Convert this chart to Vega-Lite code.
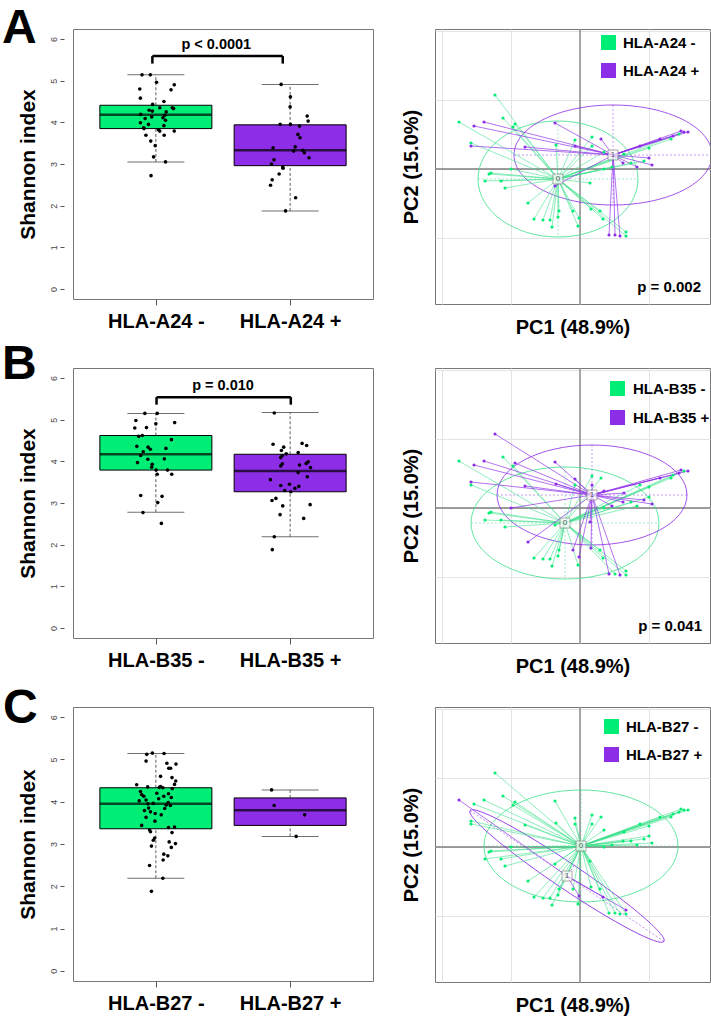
{
"$schema":"https://vega.github.io/schema/vega-lite/v6.json",
"padding":{"left":1,"top":4,"right":1,"bottom":0},
"config":{"font":"Liberation Sans","view":{"stroke":"#777","strokeWidth":1}},
"datasets":{
"pcoa":[
{"x":-85,"y":74,"a":0,"b":1,"c":0},{"x":-121,"y":47,"a":0,"b":0,"c":1},{"x":-106,"y":43,"a":1,"b":1,"c":0},{"x":-96,"y":47,"a":1,"b":1,"c":0},
{"x":-77,"y":51,"a":0,"b":0,"c":0},{"x":-65,"y":45,"a":0,"b":1,"c":0},{"x":-67,"y":42,"a":0,"b":0,"c":0},{"x":-25,"y":46,"a":1,"b":1,"c":0},
{"x":-109,"y":26,"a":0,"b":1,"c":0},{"x":-109,"y":23,"a":1,"b":0,"c":0},{"x":-55,"y":22,"a":1,"b":1,"c":0},{"x":-24,"y":24,"a":0,"b":1,"c":0},
{"x":-5,"y":29,"a":0,"b":1,"c":0},{"x":-5,"y":23,"a":1,"b":0,"c":0},{"x":12,"y":32,"a":0,"b":0,"c":0},{"x":21,"y":30,"a":1,"b":0,"c":0},
{"x":-69,"y":0,"a":0,"b":1,"c":0},{"x":-91,"y":-5,"a":0,"b":0,"c":0},{"x":-89,"y":-4,"a":0,"b":0,"c":0},{"x":-95,"y":-12,"a":0,"b":0,"c":0},
{"x":-79,"y":-12,"a":0,"b":0,"c":0},{"x":-75,"y":-19,"a":0,"b":0,"c":0},{"x":-52,"y":-34,"a":0,"b":1,"c":0},{"x":-46,"y":-50,"a":0,"b":0,"c":0},
{"x":-37,"y":-51,"a":0,"b":0,"c":0},{"x":-30,"y":-51,"a":0,"b":0,"c":0},{"x":-28,"y":-58,"a":0,"b":0,"c":0},{"x":-22,"y":-48,"a":0,"b":0,"c":0},
{"x":-21,"y":-42,"a":0,"b":0,"c":0},{"x":-2,"y":-57,"a":0,"b":0,"c":0},{"x":-1,"y":-49,"a":0,"b":1,"c":1},{"x":23,"y":-50,"a":0,"b":0,"c":1},
{"x":20,"y":-42,"a":0,"b":0,"c":0},{"x":11,"y":-40,"a":0,"b":1,"c":0},{"x":29,"y":-66,"a":1,"b":1,"c":0},{"x":35,"y":-66,"a":1,"b":0,"c":0},
{"x":40,"y":-67,"a":1,"b":1,"c":0},{"x":46,"y":-63,"a":0,"b":0,"c":1},{"x":46,"y":-67,"a":0,"b":0,"c":0},{"x":101,"y":38,"a":1,"b":1,"c":0},
{"x":104,"y":37,"a":1,"b":0,"c":0},{"x":108,"y":37,"a":1,"b":1,"c":0},{"x":99,"y":35,"a":0,"b":1,"c":0},{"x":93,"y":33,"a":1,"b":0,"c":0},
{"x":80,"y":30,"a":1,"b":1,"c":0},{"x":60,"y":23,"a":1,"b":0,"c":0},{"x":69,"y":21,"a":0,"b":0,"c":0},{"x":12,"y":23,"a":0,"b":1,"c":0},
{"x":24,"y":17,"a":0,"b":1,"c":0},{"x":69,"y":11,"a":1,"b":0,"c":0},{"x":64,"y":8,"a":0,"b":1,"c":0},{"x":72,"y":4,"a":1,"b":1,"c":0},
{"x":57,"y":2,"a":1,"b":0,"c":0},{"x":51,"y":6,"a":0,"b":0,"c":0},{"x":43,"y":6,"a":1,"b":1,"c":0},{"x":10,"y":-14,"a":0,"b":1,"c":0},
{"x":-25,"y":-17,"a":1,"b":0,"c":0},{"x":-7,"y":-42,"a":0,"b":1,"c":0},{"x":32,"y":2,"a":0,"b":1,"c":0},{"x":44,"y":15,"a":0,"b":1,"c":0},
{"x":24,"y":0,"a":0,"b":0,"c":0},{"x":91,"y":30,"a":0,"b":0,"c":0}
],
"centA":[{"g":0,"cx":-22,"cy":-10},{"g":1,"cx":33,"cy":14}],
"centB":[{"g":0,"cx":-15,"cy":-15},{"g":1,"cx":12,"cy":13}],
"centC":[{"g":0,"cx":1,"cy":1},{"g":1,"cx":-13,"cy":-29}],
"box":[
{"p":"A","g":1,"lo":3.05,"q1":3.85,"med":4.18,"q3":4.41,"hi":5.14},
{"p":"A","g":2,"lo":1.875,"q1":2.96,"med":3.33,"q3":3.94,"hi":4.91},
{"p":"B","g":1,"lo":2.78,"q1":3.79,"med":4.17,"q3":4.62,"hi":5.15},
{"p":"B","g":2,"lo":2.19,"q1":3.27,"med":3.77,"q3":4.17,"hi":5.17},
{"p":"C","g":1,"lo":2.19,"q1":3.36,"med":3.95,"q3":4.33,"hi":5.14},
{"p":"C","g":2,"lo":3.18,"q1":3.44,"med":3.80,"q3":4.09,"hi":4.28}
],
"brk":[
{"p":"A","x":0.974,"x2":1.945,"y":5.59,"y2":5.59},{"p":"A","x":0.974,"x2":0.974,"y":5.41,"y2":5.59},{"p":"A","x":1.945,"x2":1.945,"y":5.41,"y2":5.59},
{"p":"B","x":1.005,"x2":2.005,"y":5.54,"y2":5.54},{"p":"B","x":1.005,"x2":1.005,"y":5.36,"y2":5.54},{"p":"B","x":2.005,"x2":2.005,"y":5.36,"y2":5.54}
],
"jit":[
{"p":"A","x":0.897,"y":5.14},{"p":"A","x":0.959,"y":5.14},{"p":"A","x":0.88,"y":4.8},{"p":"A","x":0.885,"y":4.58},{"p":"A","x":1.005,"y":4.96},{"p":"A","x":1.137,"y":4.9},
{"p":"A","x":1.113,"y":4.78},{"p":"A","x":1.06,"y":4.5},{"p":"A","x":0.976,"y":4.43},{"p":"A","x":1.029,"y":4.35},{"p":"A","x":0.95,"y":4.29},{"p":"A","x":0.974,"y":4.27},
{"p":"A","x":0.887,"y":4.19},{"p":"A","x":1.077,"y":4.25},{"p":"A","x":1.122,"y":4.35},{"p":"A","x":1.132,"y":4.33},{"p":"A","x":0.969,"y":4.13},{"p":"A","x":1.067,"y":4.17},
{"p":"A","x":1.072,"y":4.05},{"p":"A","x":0.885,"y":3.99},{"p":"A","x":0.945,"y":3.95},{"p":"A","x":0.909,"y":3.87},{"p":"A","x":1.019,"y":3.82},{"p":"A","x":1.029,"y":3.79},
{"p":"A","x":1.137,"y":3.79},{"p":"A","x":1.06,"y":3.92},{"p":"A","x":0.926,"y":3.69},{"p":"A","x":1.062,"y":3.69},{"p":"A","x":0.962,"y":3.55},{"p":"A","x":0.995,"y":3.44},
{"p":"A","x":0.983,"y":3.17},{"p":"A","x":1.072,"y":3.05},{"p":"A","x":0.964,"y":2.72},{"p":"A","x":1.053,"y":4.11},{"p":"A","x":0.92,"y":4.09},{"p":"A","x":0.912,"y":3.85},
{"p":"A","x":1.933,"y":4.91},{"p":"A","x":2.002,"y":4.61},{"p":"A","x":2.0,"y":4.37},{"p":"A","x":2.127,"y":4.15},{"p":"A","x":2.134,"y":4.03},{"p":"A","x":1.926,"y":3.95},
{"p":"A","x":2.002,"y":3.95},{"p":"A","x":2.07,"y":3.91},{"p":"A","x":2.058,"y":3.71},{"p":"A","x":2.074,"y":3.63},{"p":"A","x":1.873,"y":3.39},{"p":"A","x":2.038,"y":3.41},
{"p":"A","x":2.026,"y":3.31},{"p":"A","x":2.094,"y":3.33},{"p":"A","x":2.106,"y":3.27},{"p":"A","x":2.141,"y":3.15},{"p":"A","x":1.88,"y":3.1},{"p":"A","x":1.861,"y":3.0},
{"p":"A","x":1.945,"y":2.93},{"p":"A","x":1.947,"y":2.9},{"p":"A","x":1.918,"y":2.76},{"p":"A","x":1.866,"y":2.62},{"p":"A","x":1.854,"y":2.49},{"p":"A","x":2.041,"y":2.19},
{"p":"A","x":1.966,"y":1.875},
{"p":"B","x":0.918,"y":5.15},{"p":"B","x":1.01,"y":5.15},{"p":"B","x":0.851,"y":4.98},{"p":"B","x":1.0,"y":4.9},{"p":"B","x":1.14,"y":4.93},{"p":"B","x":0.93,"y":4.81},
{"p":"B","x":0.843,"y":4.8},{"p":"B","x":0.872,"y":4.6},{"p":"B","x":0.899,"y":4.62},{"p":"B","x":1.116,"y":4.52},{"p":"B","x":0.858,"y":4.36},{"p":"B","x":0.942,"y":4.34},
{"p":"B","x":0.959,"y":4.29},{"p":"B","x":1.075,"y":4.31},{"p":"B","x":0.906,"y":4.23},{"p":"B","x":0.887,"y":4.14},{"p":"B","x":0.94,"y":4.05},{"p":"B","x":1.063,"y":4.06},
{"p":"B","x":0.863,"y":3.97},{"p":"B","x":0.973,"y":3.93},{"p":"B","x":0.969,"y":3.86},{"p":"B","x":1.002,"y":3.79},{"p":"B","x":1.087,"y":3.79},{"p":"B","x":1.01,"y":3.69},
{"p":"B","x":1.118,"y":3.69},{"p":"B","x":0.887,"y":3.18},{"p":"B","x":1.046,"y":3.16},{"p":"B","x":1.014,"y":3.01},{"p":"B","x":0.904,"y":2.77},{"p":"B","x":1.041,"y":2.51},
{"p":"B","x":1.882,"y":5.16},{"p":"B","x":1.873,"y":4.41},{"p":"B","x":1.952,"y":4.34},{"p":"B","x":2.089,"y":4.43},{"p":"B","x":2.123,"y":4.38},{"p":"B","x":1.935,"y":4.26},
{"p":"B","x":1.971,"y":4.18},{"p":"B","x":1.942,"y":4.14},{"p":"B","x":2.06,"y":4.21},{"p":"B","x":1.93,"y":4.09},{"p":"B","x":1.942,"y":3.94},{"p":"B","x":1.93,"y":3.89},
{"p":"B","x":2.135,"y":3.99},{"p":"B","x":2.12,"y":3.95},{"p":"B","x":2.07,"y":3.91},{"p":"B","x":2.152,"y":3.85},{"p":"B","x":2.06,"y":3.73},{"p":"B","x":1.853,"y":3.56},
{"p":"B","x":2.128,"y":3.63},{"p":"B","x":1.93,"y":3.42},{"p":"B","x":1.995,"y":3.45},{"p":"B","x":2.065,"y":3.4},{"p":"B","x":2.036,"y":3.35},{"p":"B","x":1.96,"y":3.3},
{"p":"B","x":2.005,"y":3.27},{"p":"B","x":1.894,"y":3.11},{"p":"B","x":1.865,"y":3.06},{"p":"B","x":2.149,"y":2.96},{"p":"B","x":1.945,"y":2.93},{"p":"B","x":1.925,"y":2.72},
{"p":"B","x":2.101,"y":2.63},{"p":"B","x":1.882,"y":2.19},{"p":"B","x":1.867,"y":1.88},
{"p":"C","x":0.932,"y":5.12},{"p":"C","x":0.974,"y":5.15},{"p":"C","x":1.061,"y":5.14},{"p":"C","x":0.927,"y":4.96},{"p":"C","x":1.082,"y":4.91},{"p":"C","x":1.15,"y":4.89},
{"p":"C","x":1.096,"y":4.79},{"p":"C","x":1.11,"y":4.79},{"p":"C","x":1.035,"y":4.6},{"p":"C","x":1.12,"y":4.57},{"p":"C","x":1.148,"y":4.49},{"p":"C","x":1.139,"y":4.41},
{"p":"C","x":0.857,"y":4.4},{"p":"C","x":0.939,"y":4.35},{"p":"C","x":1.035,"y":4.36},{"p":"C","x":1.052,"y":4.33},{"p":"C","x":1.122,"y":4.31},{"p":"C","x":0.885,"y":4.24},
{"p":"C","x":0.894,"y":4.17},{"p":"C","x":1.007,"y":4.2},{"p":"C","x":1.094,"y":4.19},{"p":"C","x":1.059,"y":4.13},{"p":"C","x":1.115,"y":4.1},{"p":"C","x":1.021,"y":4.07},
{"p":"C","x":0.876,"y":4.02},{"p":"C","x":0.927,"y":4.04},{"p":"C","x":0.941,"y":3.95},{"p":"C","x":1.092,"y":3.98},{"p":"C","x":1.108,"y":3.91},{"p":"C","x":0.946,"y":3.85},
{"p":"C","x":1.066,"y":3.84},{"p":"C","x":0.915,"y":3.79},{"p":"C","x":0.96,"y":3.76},{"p":"C","x":0.995,"y":3.72},{"p":"C","x":1.04,"y":3.69},{"p":"C","x":0.927,"y":3.63},
{"p":"C","x":0.993,"y":3.54},{"p":"C","x":0.894,"y":3.44},{"p":"C","x":1.094,"y":3.39},{"p":"C","x":1.139,"y":3.4},{"p":"C","x":0.953,"y":3.33},{"p":"C","x":0.96,"y":3.29},
{"p":"C","x":1.12,"y":3.27},{"p":"C","x":0.991,"y":3.14},{"p":"C","x":0.981,"y":3.09},{"p":"C","x":1.099,"y":3.05},{"p":"C","x":1.146,"y":3.01},{"p":"C","x":1.115,"y":2.92},
{"p":"C","x":0.967,"y":2.95},{"p":"C","x":1.059,"y":2.76},{"p":"C","x":1.089,"y":2.72},{"p":"C","x":1.054,"y":2.62},{"p":"C","x":0.953,"y":2.49},{"p":"C","x":1.052,"y":2.19},
{"p":"C","x":0.967,"y":1.88},{"p":"C","x":0.91,"y":4.13},{"p":"C","x":1.077,"y":3.92},{"p":"C","x":1.026,"y":4.34},{"p":"C","x":0.98,"y":3.96},
{"p":"C","x":1.862,"y":4.28},{"p":"C","x":1.881,"y":3.91},{"p":"C","x":2.108,"y":3.69},{"p":"C","x":2.045,"y":3.18}
]
},
"columns":2,
"spacing":{"row":64,"column":62},
"bounds":"flush",
"resolve":{"scale":{"color":"independent"},"legend":{"color":"independent"}},
"concat":[
{"width":300,"height":270,
"title":{"text":"A","anchor":"start","frame":"group","fontSize":48,"fontWeight":"bold","color":"#000","dx":-71,"dy":14,"offset":-48,"baseline":"alphabetic"},
"layer":[
{"data":{"name":"box"},"transform":[{"filter":"datum.p=='A' && datum.g==1"}],"mark":{"type":"bar","width":112,"stroke":"#000","strokeWidth":1,"color":"#00EE76"},
"encoding":{"x":{"field":"g","type":"quantitative","scale":{"domain":[0.42,2.58],"nice":false,"zero":false},"axis":{"values":[1,2],"labelExpr":"datum.value == 1 ? 'HLA-A24 -' : 'HLA-A24 +'","labelFontSize":20,"labelFontWeight":"bold","labelColor":"#000","labelPadding":6,"tickSize":6,"tickColor":"#555","domain":false,"grid":false,"title":null}},
"y":{"field":"q1","type":"quantitative","scale":{"domain":[-0.24,6.24],"nice":false,"zero":false},"axis":{"values":[0,1,2,3,4,5,6],"labelAngle":-90,"labelFontSize":9,"labelColor":"#444","labelPadding":2,"tickSize":4,"tickColor":"#555","offset":9,"domain":false,"grid":false,"title":"Shannon index","titleFontSize":21,"titleFontWeight":"bold","titleColor":"#000","titlePadding":11}},
"y2":{"field":"q3"}}},
{"data":{"name":"box"},"transform":[{"filter":"datum.p=='A' && datum.g==2"}],"mark":{"type":"bar","width":112,"stroke":"#000","strokeWidth":1,"color":"#8E2DE8"},
"encoding":{"x":{"field":"g","type":"quantitative","scale":{"domain":[0.42,2.58],"nice":false,"zero":false}},"y":{"field":"q1","type":"quantitative","scale":{"domain":[-0.24,6.24],"nice":false,"zero":false}},"y2":{"field":"q3"}}},
{"data":{"name":"box"},"transform":[{"filter":"datum.p=='A'"}],"mark":{"type":"rule","strokeDash":[3,2],"color":"#333","strokeWidth":0.8},
"encoding":{"x":{"field":"g","type":"quantitative","scale":{"domain":[0.42,2.58],"nice":false,"zero":false}},"y":{"field":"q3","type":"quantitative","scale":{"domain":[-0.24,6.24],"nice":false,"zero":false}},"y2":{"field":"hi"}}},
{"data":{"name":"box"},"transform":[{"filter":"datum.p=='A'"}],"mark":{"type":"rule","strokeDash":[3,2],"color":"#333","strokeWidth":0.8},
"encoding":{"x":{"field":"g","type":"quantitative","scale":{"domain":[0.42,2.58],"nice":false,"zero":false}},"y":{"field":"lo","type":"quantitative","scale":{"domain":[-0.24,6.24],"nice":false,"zero":false}},"y2":{"field":"q1"}}},
{"data":{"name":"box"},"transform":[{"filter":"datum.p=='A'"}],"mark":{"type":"tick","orient":"horizontal","size":57,"thickness":1,"color":"#333"},
"encoding":{"x":{"field":"g","type":"quantitative","scale":{"domain":[0.42,2.58],"nice":false,"zero":false}},"y":{"field":"hi","type":"quantitative","scale":{"domain":[-0.24,6.24],"nice":false,"zero":false}}}},
{"data":{"name":"box"},"transform":[{"filter":"datum.p=='A'"}],"mark":{"type":"tick","orient":"horizontal","size":57,"thickness":1,"color":"#333"},
"encoding":{"x":{"field":"g","type":"quantitative","scale":{"domain":[0.42,2.58],"nice":false,"zero":false}},"y":{"field":"lo","type":"quantitative","scale":{"domain":[-0.24,6.24],"nice":false,"zero":false}}}},
{"data":{"name":"box"},"transform":[{"filter":"datum.p=='A'"}],"mark":{"type":"tick","orient":"horizontal","size":112,"thickness":2.5,"color":"#000"},
"encoding":{"x":{"field":"g","type":"quantitative","scale":{"domain":[0.42,2.58],"nice":false,"zero":false}},"y":{"field":"med","type":"quantitative","scale":{"domain":[-0.24,6.24],"nice":false,"zero":false}}}},
{"data":{"name":"jit"},"transform":[{"filter":"datum.p=='A'"}],"mark":{"type":"circle","size":13,"color":"#000","opacity":1},
"encoding":{"x":{"field":"x","type":"quantitative","scale":{"domain":[0.42,2.58],"nice":false,"zero":false}},"y":{"field":"y","type":"quantitative","scale":{"domain":[-0.24,6.24],"nice":false,"zero":false}}}},
{"data":{"name":"brk"},"transform":[{"filter":"datum.p=='A'"}],"mark":{"type":"rule","strokeWidth":2.5,"color":"#000"},
"encoding":{"x":{"field":"x","type":"quantitative","scale":{"domain":[0.42,2.58],"nice":false,"zero":false}},"x2":{"field":"x2"},"y":{"field":"y","type":"quantitative","scale":{"domain":[-0.24,6.24],"nice":false,"zero":false}},"y2":{"field":"y2"}}},
{"data":{"values":[{}]},"mark":{"type":"text","text":"p < 0.0001","fontSize":14.5,"fontWeight":"bold","baseline":"alphabetic","align":"center","color":"#000"},
"encoding":{"x":{"datum":1.45,"type":"quantitative","scale":{"domain":[0.42,2.58],"nice":false,"zero":false}},"y":{"datum":5.75,"type":"quantitative","scale":{"domain":[-0.24,6.24],"nice":false,"zero":false}}}}
]},
{"width":275,"height":275,
"layer":[
{"data":{"values":[{}]},"mark":{"type":"rule","color":"#7f7f7f","strokeWidth":1.3},
"encoding":{"x":{"datum":0,"type":"quantitative","scale":{"domain":[-145,130],"nice":false,"zero":false},"axis":{"values":[-138,-69,0,69],"grid":true,"gridColor":"#e4e4e4","labels":false,"ticks":false,"domain":false,"title":"PC1 (48.9%)","titleFontSize":20,"titleFontWeight":"bold","titleColor":"#000","titlePadding":13}}}},
{"data":{"values":[{}]},"mark":{"type":"rule","color":"#7f7f7f","strokeWidth":1.3},
"encoding":{"y":{"datum":0,"type":"quantitative","scale":{"domain":[-135,140],"nice":false,"zero":false},"axis":{"values":[-69,0,69,138],"grid":true,"gridColor":"#e4e4e4","labels":false,"ticks":false,"domain":false,"title":"PC2 (15.0%)","titleFontSize":20,"titleFontWeight":"bold","titleColor":"#000","titlePadding":14}}}},
{"data":{"name":"centA"},"transform":[{"filter":"datum.g==0"}],"mark":{"type":"point","shape":"M-1,0A1,0.725,0,1,1,1,0A1,0.725,0,1,1,-1,0","size":25600,"filled":false,"color":"#3FE08C","strokeWidth":0.9,"opacity":0.9,"clip":true},
"encoding":{"x":{"field":"cx","type":"quantitative","scale":{"domain":[-145,130],"nice":false,"zero":false}},"y":{"field":"cy","type":"quantitative","scale":{"domain":[-135,140],"nice":false,"zero":false}}}},
{"data":{"name":"centA"},"transform":[{"filter":"datum.g==0"}],"mark":{"type":"point","shape":"M-1,0L1,0M0,-0.725L0,0.725","size":25600,"filled":false,"color":"#3FE08C","strokeWidth":0.8,"strokeDash":[2,2],"opacity":0.6,"clip":true},
"encoding":{"x":{"field":"cx","type":"quantitative","scale":{"domain":[-145,130],"nice":false,"zero":false}},"y":{"field":"cy","type":"quantitative","scale":{"domain":[-135,140],"nice":false,"zero":false}}}},
{"data":{"name":"centA"},"transform":[{"filter":"datum.g==1"}],"mark":{"type":"point","shape":"M-1,0A1,0.505,0,1,1,1,0A1,0.505,0,1,1,-1,0","size":39204,"filled":false,"color":"#8E2DE8","strokeWidth":0.9,"opacity":0.9,"clip":true},
"encoding":{"x":{"field":"cx","type":"quantitative","scale":{"domain":[-145,130],"nice":false,"zero":false}},"y":{"field":"cy","type":"quantitative","scale":{"domain":[-135,140],"nice":false,"zero":false}}}},
{"data":{"name":"centA"},"transform":[{"filter":"datum.g==1"}],"mark":{"type":"point","shape":"M-1,0L1,0M0,-0.505L0,0.505","size":39204,"filled":false,"color":"#8E2DE8","strokeWidth":0.8,"strokeDash":[2,2],"opacity":0.6,"clip":true},
"encoding":{"x":{"field":"cx","type":"quantitative","scale":{"domain":[-145,130],"nice":false,"zero":false}},"y":{"field":"cy","type":"quantitative","scale":{"domain":[-135,140],"nice":false,"zero":false}}}},
{"data":{"name":"pcoa"},"transform":[{"filter":"datum.a==0"},{"lookup":"a","from":{"data":{"name":"centA"},"key":"g","fields":["cx","cy"]}}],"mark":{"type":"rule","strokeWidth":0.9,"opacity":0.65,"color":"#3FE08C"},
"encoding":{"x":{"field":"x","type":"quantitative","scale":{"domain":[-145,130],"nice":false,"zero":false}},"y":{"field":"y","type":"quantitative","scale":{"domain":[-135,140],"nice":false,"zero":false}},"x2":{"field":"cx"},"y2":{"field":"cy"}}},
{"data":{"name":"pcoa"},"transform":[{"filter":"datum.a==1"},{"lookup":"a","from":{"data":{"name":"centA"},"key":"g","fields":["cx","cy"]}}],"mark":{"type":"rule","strokeWidth":0.9,"opacity":0.75,"color":"#8E2DE8"},
"encoding":{"x":{"field":"x","type":"quantitative","scale":{"domain":[-145,130],"nice":false,"zero":false}},"y":{"field":"y","type":"quantitative","scale":{"domain":[-135,140],"nice":false,"zero":false}},"x2":{"field":"cx"},"y2":{"field":"cy"}}},
{"data":{"name":"pcoa"},"mark":{"type":"point","filled":true,"size":10,"opacity":1},
"encoding":{"x":{"field":"x","type":"quantitative","scale":{"domain":[-145,130],"nice":false,"zero":false}},"y":{"field":"y","type":"quantitative","scale":{"domain":[-135,140],"nice":false,"zero":false}},
"color":{"field":"a","type":"nominal","scale":{"domain":[0,1],"range":["#00EE76","#8E2DE8"]},"legend":{"orient":"none","legendX":166,"legendY":6,"title":null,"symbolType":"square","symbolSize":225,"symbolStrokeWidth":0,"symbolOpacity":1,"labelFontSize":15,"labelFontWeight":"bold","labelColor":"#000","rowPadding":12,"labelOffset":7,"padding":0,"labelExpr":"datum.label == '0' ? 'HLA-A24 -' : 'HLA-A24 +'"}}}},
{"data":{"name":"centA"},"mark":{"type":"square","size":100,"fill":"#fff","filled":true,"stroke":"#888","strokeWidth":1},
"encoding":{"x":{"field":"cx","type":"quantitative","scale":{"domain":[-145,130],"nice":false,"zero":false}},"y":{"field":"cy","type":"quantitative","scale":{"domain":[-135,140],"nice":false,"zero":false}}}},
{"data":{"name":"centA"},"mark":{"type":"text","fontSize":8,"baseline":"middle","align":"center","color":"#555"},
"encoding":{"x":{"field":"cx","type":"quantitative","scale":{"domain":[-145,130],"nice":false,"zero":false}},"y":{"field":"cy","type":"quantitative","scale":{"domain":[-135,140],"nice":false,"zero":false}},"text":{"field":"g"}}},
{"data":{"values":[{}]},"mark":{"type":"text","text":"p = 0.002","fontSize":15,"fontWeight":"bold","baseline":"alphabetic","align":"right","color":"#000"},
"encoding":{"x":{"datum":121,"type":"quantitative","scale":{"domain":[-145,130],"nice":false,"zero":false}},"y":{"datum":-123,"type":"quantitative","scale":{"domain":[-135,140],"nice":false,"zero":false}}}}
]},
{"width":300,"height":270,
"title":{"text":"B","anchor":"start","frame":"group","fontSize":48,"fontWeight":"bold","color":"#000","dx":-71,"dy":11,"offset":-48,"baseline":"alphabetic"},
"layer":[
{"data":{"name":"box"},"transform":[{"filter":"datum.p=='B' && datum.g==1"}],"mark":{"type":"bar","width":112,"stroke":"#000","strokeWidth":1,"color":"#00EE76"},
"encoding":{"x":{"field":"g","type":"quantitative","scale":{"domain":[0.42,2.58],"nice":false,"zero":false},"axis":{"values":[1,2],"labelExpr":"datum.value == 1 ? 'HLA-B35 -' : 'HLA-B35 +'","labelFontSize":20,"labelFontWeight":"bold","labelColor":"#000","labelPadding":6,"tickSize":6,"tickColor":"#555","domain":false,"grid":false,"title":null}},
"y":{"field":"q1","type":"quantitative","scale":{"domain":[-0.24,6.24],"nice":false,"zero":false},"axis":{"values":[0,1,2,3,4,5,6],"labelAngle":-90,"labelFontSize":9,"labelColor":"#444","labelPadding":2,"tickSize":4,"tickColor":"#555","offset":9,"domain":false,"grid":false,"title":"Shannon index","titleFontSize":21,"titleFontWeight":"bold","titleColor":"#000","titlePadding":11}},
"y2":{"field":"q3"}}},
{"data":{"name":"box"},"transform":[{"filter":"datum.p=='B' && datum.g==2"}],"mark":{"type":"bar","width":112,"stroke":"#000","strokeWidth":1,"color":"#8E2DE8"},
"encoding":{"x":{"field":"g","type":"quantitative","scale":{"domain":[0.42,2.58],"nice":false,"zero":false}},"y":{"field":"q1","type":"quantitative","scale":{"domain":[-0.24,6.24],"nice":false,"zero":false}},"y2":{"field":"q3"}}},
{"data":{"name":"box"},"transform":[{"filter":"datum.p=='B'"}],"mark":{"type":"rule","strokeDash":[3,2],"color":"#333","strokeWidth":0.8},
"encoding":{"x":{"field":"g","type":"quantitative","scale":{"domain":[0.42,2.58],"nice":false,"zero":false}},"y":{"field":"q3","type":"quantitative","scale":{"domain":[-0.24,6.24],"nice":false,"zero":false}},"y2":{"field":"hi"}}},
{"data":{"name":"box"},"transform":[{"filter":"datum.p=='B'"}],"mark":{"type":"rule","strokeDash":[3,2],"color":"#333","strokeWidth":0.8},
"encoding":{"x":{"field":"g","type":"quantitative","scale":{"domain":[0.42,2.58],"nice":false,"zero":false}},"y":{"field":"lo","type":"quantitative","scale":{"domain":[-0.24,6.24],"nice":false,"zero":false}},"y2":{"field":"q1"}}},
{"data":{"name":"box"},"transform":[{"filter":"datum.p=='B'"}],"mark":{"type":"tick","orient":"horizontal","size":57,"thickness":1,"color":"#333"},
"encoding":{"x":{"field":"g","type":"quantitative","scale":{"domain":[0.42,2.58],"nice":false,"zero":false}},"y":{"field":"hi","type":"quantitative","scale":{"domain":[-0.24,6.24],"nice":false,"zero":false}}}},
{"data":{"name":"box"},"transform":[{"filter":"datum.p=='B'"}],"mark":{"type":"tick","orient":"horizontal","size":57,"thickness":1,"color":"#333"},
"encoding":{"x":{"field":"g","type":"quantitative","scale":{"domain":[0.42,2.58],"nice":false,"zero":false}},"y":{"field":"lo","type":"quantitative","scale":{"domain":[-0.24,6.24],"nice":false,"zero":false}}}},
{"data":{"name":"box"},"transform":[{"filter":"datum.p=='B'"}],"mark":{"type":"tick","orient":"horizontal","size":112,"thickness":2.5,"color":"#000"},
"encoding":{"x":{"field":"g","type":"quantitative","scale":{"domain":[0.42,2.58],"nice":false,"zero":false}},"y":{"field":"med","type":"quantitative","scale":{"domain":[-0.24,6.24],"nice":false,"zero":false}}}},
{"data":{"name":"jit"},"transform":[{"filter":"datum.p=='B'"}],"mark":{"type":"circle","size":13,"color":"#000","opacity":1},
"encoding":{"x":{"field":"x","type":"quantitative","scale":{"domain":[0.42,2.58],"nice":false,"zero":false}},"y":{"field":"y","type":"quantitative","scale":{"domain":[-0.24,6.24],"nice":false,"zero":false}}}},
{"data":{"name":"brk"},"transform":[{"filter":"datum.p=='B'"}],"mark":{"type":"rule","strokeWidth":2.5,"color":"#000"},
"encoding":{"x":{"field":"x","type":"quantitative","scale":{"domain":[0.42,2.58],"nice":false,"zero":false}},"x2":{"field":"x2"},"y":{"field":"y","type":"quantitative","scale":{"domain":[-0.24,6.24],"nice":false,"zero":false}},"y2":{"field":"y2"}}},
{"data":{"values":[{}]},"mark":{"type":"text","text":"p = 0.010","fontSize":14.5,"fontWeight":"bold","baseline":"alphabetic","align":"center","color":"#000"},
"encoding":{"x":{"datum":1.5,"type":"quantitative","scale":{"domain":[0.42,2.58],"nice":false,"zero":false}},"y":{"datum":5.72,"type":"quantitative","scale":{"domain":[-0.24,6.24],"nice":false,"zero":false}}}}
]},
{"width":275,"height":275,
"layer":[
{"data":{"values":[{}]},"mark":{"type":"rule","color":"#7f7f7f","strokeWidth":1.3},
"encoding":{"x":{"datum":0,"type":"quantitative","scale":{"domain":[-145,130],"nice":false,"zero":false},"axis":{"values":[-138,-69,0,69],"grid":true,"gridColor":"#e4e4e4","labels":false,"ticks":false,"domain":false,"title":"PC1 (48.9%)","titleFontSize":20,"titleFontWeight":"bold","titleColor":"#000","titlePadding":13}}}},
{"data":{"values":[{}]},"mark":{"type":"rule","color":"#7f7f7f","strokeWidth":1.3},
"encoding":{"y":{"datum":0,"type":"quantitative","scale":{"domain":[-135,140],"nice":false,"zero":false},"axis":{"values":[-69,0,69,138],"grid":true,"gridColor":"#e4e4e4","labels":false,"ticks":false,"domain":false,"title":"PC2 (15.0%)","titleFontSize":20,"titleFontWeight":"bold","titleColor":"#000","titlePadding":14}}}},
{"data":{"name":"centB"},"transform":[{"filter":"datum.g==0"}],"mark":{"type":"point","shape":"M-1,0A1,0.596,0,1,1,1,0A1,0.596,0,1,1,-1,0","size":35344,"filled":false,"color":"#3FE08C","strokeWidth":0.9,"opacity":0.9,"clip":true},
"encoding":{"x":{"field":"cx","type":"quantitative","scale":{"domain":[-145,130],"nice":false,"zero":false}},"y":{"field":"cy","type":"quantitative","scale":{"domain":[-135,140],"nice":false,"zero":false}}}},
{"data":{"name":"centB"},"transform":[{"filter":"datum.g==0"}],"mark":{"type":"point","shape":"M-1,0L1,0M0,-0.596L0,0.596","size":35344,"filled":false,"color":"#3FE08C","strokeWidth":0.8,"strokeDash":[2,2],"opacity":0.6,"clip":true},
"encoding":{"x":{"field":"cx","type":"quantitative","scale":{"domain":[-145,130],"nice":false,"zero":false}},"y":{"field":"cy","type":"quantitative","scale":{"domain":[-135,140],"nice":false,"zero":false}}}},
{"data":{"name":"centB"},"transform":[{"filter":"datum.g==1"}],"mark":{"type":"point","shape":"M-1,0A1,0.526,0,1,1,1,0A1,0.526,0,1,1,-1,0","size":36100,"filled":false,"color":"#8E2DE8","strokeWidth":0.9,"opacity":0.9,"clip":true},
"encoding":{"x":{"field":"cx","type":"quantitative","scale":{"domain":[-145,130],"nice":false,"zero":false}},"y":{"field":"cy","type":"quantitative","scale":{"domain":[-135,140],"nice":false,"zero":false}}}},
{"data":{"name":"centB"},"transform":[{"filter":"datum.g==1"}],"mark":{"type":"point","shape":"M-1,0L1,0M0,-0.526L0,0.526","size":36100,"filled":false,"color":"#8E2DE8","strokeWidth":0.8,"strokeDash":[2,2],"opacity":0.6,"clip":true},
"encoding":{"x":{"field":"cx","type":"quantitative","scale":{"domain":[-145,130],"nice":false,"zero":false}},"y":{"field":"cy","type":"quantitative","scale":{"domain":[-135,140],"nice":false,"zero":false}}}},
{"data":{"name":"pcoa"},"transform":[{"filter":"datum.b==0"},{"lookup":"b","from":{"data":{"name":"centB"},"key":"g","fields":["cx","cy"]}}],"mark":{"type":"rule","strokeWidth":0.9,"opacity":0.65,"color":"#3FE08C"},
"encoding":{"x":{"field":"x","type":"quantitative","scale":{"domain":[-145,130],"nice":false,"zero":false}},"y":{"field":"y","type":"quantitative","scale":{"domain":[-135,140],"nice":false,"zero":false}},"x2":{"field":"cx"},"y2":{"field":"cy"}}},
{"data":{"name":"pcoa"},"transform":[{"filter":"datum.b==1"},{"lookup":"b","from":{"data":{"name":"centB"},"key":"g","fields":["cx","cy"]}}],"mark":{"type":"rule","strokeWidth":0.9,"opacity":0.75,"color":"#8E2DE8"},
"encoding":{"x":{"field":"x","type":"quantitative","scale":{"domain":[-145,130],"nice":false,"zero":false}},"y":{"field":"y","type":"quantitative","scale":{"domain":[-135,140],"nice":false,"zero":false}},"x2":{"field":"cx"},"y2":{"field":"cy"}}},
{"data":{"name":"pcoa"},"mark":{"type":"point","filled":true,"size":10,"opacity":1},
"encoding":{"x":{"field":"x","type":"quantitative","scale":{"domain":[-145,130],"nice":false,"zero":false}},"y":{"field":"y","type":"quantitative","scale":{"domain":[-135,140],"nice":false,"zero":false}},
"color":{"field":"b","type":"nominal","scale":{"domain":[0,1],"range":["#00EE76","#8E2DE8"]},"legend":{"orient":"none","legendX":175,"legendY":13,"title":null,"symbolType":"square","symbolSize":225,"symbolStrokeWidth":0,"symbolOpacity":1,"labelFontSize":15,"labelFontWeight":"bold","labelColor":"#000","rowPadding":13,"labelOffset":8,"padding":0,"labelExpr":"datum.label == '0' ? 'HLA-B35 -' : 'HLA-B35 +'"}}}},
{"data":{"name":"centB"},"mark":{"type":"square","size":100,"fill":"#fff","filled":true,"stroke":"#888","strokeWidth":1},
"encoding":{"x":{"field":"cx","type":"quantitative","scale":{"domain":[-145,130],"nice":false,"zero":false}},"y":{"field":"cy","type":"quantitative","scale":{"domain":[-135,140],"nice":false,"zero":false}}}},
{"data":{"name":"centB"},"mark":{"type":"text","fontSize":8,"baseline":"middle","align":"center","color":"#555"},
"encoding":{"x":{"field":"cx","type":"quantitative","scale":{"domain":[-145,130],"nice":false,"zero":false}},"y":{"field":"cy","type":"quantitative","scale":{"domain":[-135,140],"nice":false,"zero":false}},"text":{"field":"g"}}},
{"data":{"values":[{}]},"mark":{"type":"text","text":"p = 0.041","fontSize":15,"fontWeight":"bold","baseline":"alphabetic","align":"right","color":"#000"},
"encoding":{"x":{"datum":122,"type":"quantitative","scale":{"domain":[-145,130],"nice":false,"zero":false}},"y":{"datum":-123,"type":"quantitative","scale":{"domain":[-135,140],"nice":false,"zero":false}}}}
]},
{"width":300,"height":274,
"title":{"text":"C","anchor":"start","frame":"group","fontSize":48,"fontWeight":"bold","color":"#000","dx":-70,"dy":16,"offset":-48,"baseline":"alphabetic"},
"layer":[
{"data":{"name":"box"},"transform":[{"filter":"datum.p=='C' && datum.g==1"}],"mark":{"type":"bar","width":112,"stroke":"#000","strokeWidth":1,"color":"#00EE76"},
"encoding":{"x":{"field":"g","type":"quantitative","scale":{"domain":[0.42,2.58],"nice":false,"zero":false},"axis":{"values":[1,2],"labelExpr":"datum.value == 1 ? 'HLA-B27 -' : 'HLA-B27 +'","labelFontSize":20,"labelFontWeight":"bold","labelColor":"#000","labelPadding":6,"tickSize":6,"tickColor":"#555","domain":false,"grid":false,"title":null}},
"y":{"field":"q1","type":"quantitative","scale":{"domain":[-0.24,6.24],"nice":false,"zero":false},"axis":{"values":[0,1,2,3,4,5,6],"labelAngle":-90,"labelFontSize":9,"labelColor":"#444","labelPadding":2,"tickSize":4,"tickColor":"#555","offset":9,"domain":false,"grid":false,"title":"Shannon index","titleFontSize":21,"titleFontWeight":"bold","titleColor":"#000","titlePadding":11}},
"y2":{"field":"q3"}}},
{"data":{"name":"box"},"transform":[{"filter":"datum.p=='C' && datum.g==2"}],"mark":{"type":"bar","width":112,"stroke":"#000","strokeWidth":1,"color":"#8E2DE8"},
"encoding":{"x":{"field":"g","type":"quantitative","scale":{"domain":[0.42,2.58],"nice":false,"zero":false}},"y":{"field":"q1","type":"quantitative","scale":{"domain":[-0.24,6.24],"nice":false,"zero":false}},"y2":{"field":"q3"}}},
{"data":{"name":"box"},"transform":[{"filter":"datum.p=='C'"}],"mark":{"type":"rule","strokeDash":[3,2],"color":"#333","strokeWidth":0.8},
"encoding":{"x":{"field":"g","type":"quantitative","scale":{"domain":[0.42,2.58],"nice":false,"zero":false}},"y":{"field":"q3","type":"quantitative","scale":{"domain":[-0.24,6.24],"nice":false,"zero":false}},"y2":{"field":"hi"}}},
{"data":{"name":"box"},"transform":[{"filter":"datum.p=='C'"}],"mark":{"type":"rule","strokeDash":[3,2],"color":"#333","strokeWidth":0.8},
"encoding":{"x":{"field":"g","type":"quantitative","scale":{"domain":[0.42,2.58],"nice":false,"zero":false}},"y":{"field":"lo","type":"quantitative","scale":{"domain":[-0.24,6.24],"nice":false,"zero":false}},"y2":{"field":"q1"}}},
{"data":{"name":"box"},"transform":[{"filter":"datum.p=='C'"}],"mark":{"type":"tick","orient":"horizontal","size":57,"thickness":1,"color":"#333"},
"encoding":{"x":{"field":"g","type":"quantitative","scale":{"domain":[0.42,2.58],"nice":false,"zero":false}},"y":{"field":"hi","type":"quantitative","scale":{"domain":[-0.24,6.24],"nice":false,"zero":false}}}},
{"data":{"name":"box"},"transform":[{"filter":"datum.p=='C'"}],"mark":{"type":"tick","orient":"horizontal","size":57,"thickness":1,"color":"#333"},
"encoding":{"x":{"field":"g","type":"quantitative","scale":{"domain":[0.42,2.58],"nice":false,"zero":false}},"y":{"field":"lo","type":"quantitative","scale":{"domain":[-0.24,6.24],"nice":false,"zero":false}}}},
{"data":{"name":"box"},"transform":[{"filter":"datum.p=='C'"}],"mark":{"type":"tick","orient":"horizontal","size":112,"thickness":2.5,"color":"#000"},
"encoding":{"x":{"field":"g","type":"quantitative","scale":{"domain":[0.42,2.58],"nice":false,"zero":false}},"y":{"field":"med","type":"quantitative","scale":{"domain":[-0.24,6.24],"nice":false,"zero":false}}}},
{"data":{"name":"jit"},"transform":[{"filter":"datum.p=='C'"}],"mark":{"type":"circle","size":13,"color":"#000","opacity":1},
"encoding":{"x":{"field":"x","type":"quantitative","scale":{"domain":[0.42,2.58],"nice":false,"zero":false}},"y":{"field":"y","type":"quantitative","scale":{"domain":[-0.24,6.24],"nice":false,"zero":false}}}}
]},
{"width":275,"height":275,
"layer":[
{"data":{"values":[{}]},"mark":{"type":"rule","color":"#7f7f7f","strokeWidth":1.3},
"encoding":{"x":{"datum":0,"type":"quantitative","scale":{"domain":[-145,130],"nice":false,"zero":false},"axis":{"values":[-138,-69,0,69],"grid":true,"gridColor":"#e4e4e4","labels":false,"ticks":false,"domain":false,"title":"PC1 (48.9%)","titleFontSize":20,"titleFontWeight":"bold","titleColor":"#000","titlePadding":13}}}},
{"data":{"values":[{}]},"mark":{"type":"rule","color":"#7f7f7f","strokeWidth":1.3},
"encoding":{"y":{"datum":0,"type":"quantitative","scale":{"domain":[-135,140],"nice":false,"zero":false},"axis":{"values":[-69,0,69,138],"grid":true,"gridColor":"#e4e4e4","labels":false,"ticks":false,"domain":false,"title":"PC2 (15.0%)","titleFontSize":20,"titleFontWeight":"bold","titleColor":"#000","titlePadding":14}}}},
{"data":{"name":"centC"},"transform":[{"filter":"datum.g==0"}],"mark":{"type":"point","shape":"M-1,0A1,0.577,0,1,1,1,0A1,0.577,0,1,1,-1,0","size":37636,"filled":false,"color":"#3FE08C","strokeWidth":0.9,"opacity":0.9,"clip":true},
"encoding":{"x":{"field":"cx","type":"quantitative","scale":{"domain":[-145,130],"nice":false,"zero":false}},"y":{"field":"cy","type":"quantitative","scale":{"domain":[-135,140],"nice":false,"zero":false}}}},
{"data":{"name":"centC"},"transform":[{"filter":"datum.g==0"}],"mark":{"type":"point","shape":"M-1,0L1,0M0,-0.577L0,0.577","size":37636,"filled":false,"color":"#3FE08C","strokeWidth":0.8,"strokeDash":[2,2],"opacity":0.6,"clip":true},
"encoding":{"x":{"field":"cx","type":"quantitative","scale":{"domain":[-145,130],"nice":false,"zero":false}},"y":{"field":"cy","type":"quantitative","scale":{"domain":[-135,140],"nice":false,"zero":false}}}},
{"data":{"name":"centC"},"transform":[{"filter":"datum.g==1"}],"mark":{"type":"point","shape":"M-1,0A1,0.11,0,1,1,1,0A1,0.11,0,1,1,-1,0","size":54756,"angle":34,"filled":false,"color":"#8E2DE8","strokeWidth":0.9,"opacity":0.9,"clip":true},
"encoding":{"x":{"field":"cx","type":"quantitative","scale":{"domain":[-145,130],"nice":false,"zero":false}},"y":{"field":"cy","type":"quantitative","scale":{"domain":[-135,140],"nice":false,"zero":false}}}},
{"data":{"name":"centC"},"transform":[{"filter":"datum.g==1"}],"mark":{"type":"point","shape":"M-1,0L1,0M0,-0.11L0,0.11","size":54756,"angle":34,"filled":false,"color":"#8E2DE8","strokeWidth":0.8,"strokeDash":[2,2],"opacity":0.6,"clip":true},
"encoding":{"x":{"field":"cx","type":"quantitative","scale":{"domain":[-145,130],"nice":false,"zero":false}},"y":{"field":"cy","type":"quantitative","scale":{"domain":[-135,140],"nice":false,"zero":false}}}},
{"data":{"name":"pcoa"},"transform":[{"filter":"datum.c==0"},{"lookup":"c","from":{"data":{"name":"centC"},"key":"g","fields":["cx","cy"]}}],"mark":{"type":"rule","strokeWidth":0.9,"opacity":0.65,"color":"#3FE08C"},
"encoding":{"x":{"field":"x","type":"quantitative","scale":{"domain":[-145,130],"nice":false,"zero":false}},"y":{"field":"y","type":"quantitative","scale":{"domain":[-135,140],"nice":false,"zero":false}},"x2":{"field":"cx"},"y2":{"field":"cy"}}},
{"data":{"name":"pcoa"},"transform":[{"filter":"datum.c==1"},{"lookup":"c","from":{"data":{"name":"centC"},"key":"g","fields":["cx","cy"]}}],"mark":{"type":"rule","strokeWidth":0.9,"opacity":0.75,"color":"#8E2DE8"},
"encoding":{"x":{"field":"x","type":"quantitative","scale":{"domain":[-145,130],"nice":false,"zero":false}},"y":{"field":"y","type":"quantitative","scale":{"domain":[-135,140],"nice":false,"zero":false}},"x2":{"field":"cx"},"y2":{"field":"cy"}}},
{"data":{"name":"pcoa"},"mark":{"type":"point","filled":true,"size":10,"opacity":1},
"encoding":{"x":{"field":"x","type":"quantitative","scale":{"domain":[-145,130],"nice":false,"zero":false}},"y":{"field":"y","type":"quantitative","scale":{"domain":[-135,140],"nice":false,"zero":false}},
"color":{"field":"c","type":"nominal","scale":{"domain":[0,1],"range":["#00EE76","#8E2DE8"]},"legend":{"orient":"none","legendX":169,"legendY":12,"title":null,"symbolType":"square","symbolSize":225,"symbolStrokeWidth":0,"symbolOpacity":1,"labelFontSize":15,"labelFontWeight":"bold","labelColor":"#000","rowPadding":12,"labelOffset":7,"padding":0,"labelExpr":"datum.label == '0' ? 'HLA-B27 -' : 'HLA-B27 +'"}}}},
{"data":{"name":"centC"},"mark":{"type":"square","size":100,"fill":"#fff","filled":true,"stroke":"#888","strokeWidth":1},
"encoding":{"x":{"field":"cx","type":"quantitative","scale":{"domain":[-145,130],"nice":false,"zero":false}},"y":{"field":"cy","type":"quantitative","scale":{"domain":[-135,140],"nice":false,"zero":false}}}},
{"data":{"name":"centC"},"mark":{"type":"text","fontSize":8,"baseline":"middle","align":"center","color":"#555"},
"encoding":{"x":{"field":"cx","type":"quantitative","scale":{"domain":[-145,130],"nice":false,"zero":false}},"y":{"field":"cy","type":"quantitative","scale":{"domain":[-135,140],"nice":false,"zero":false}},"text":{"field":"g"}}}
]}
]
}
